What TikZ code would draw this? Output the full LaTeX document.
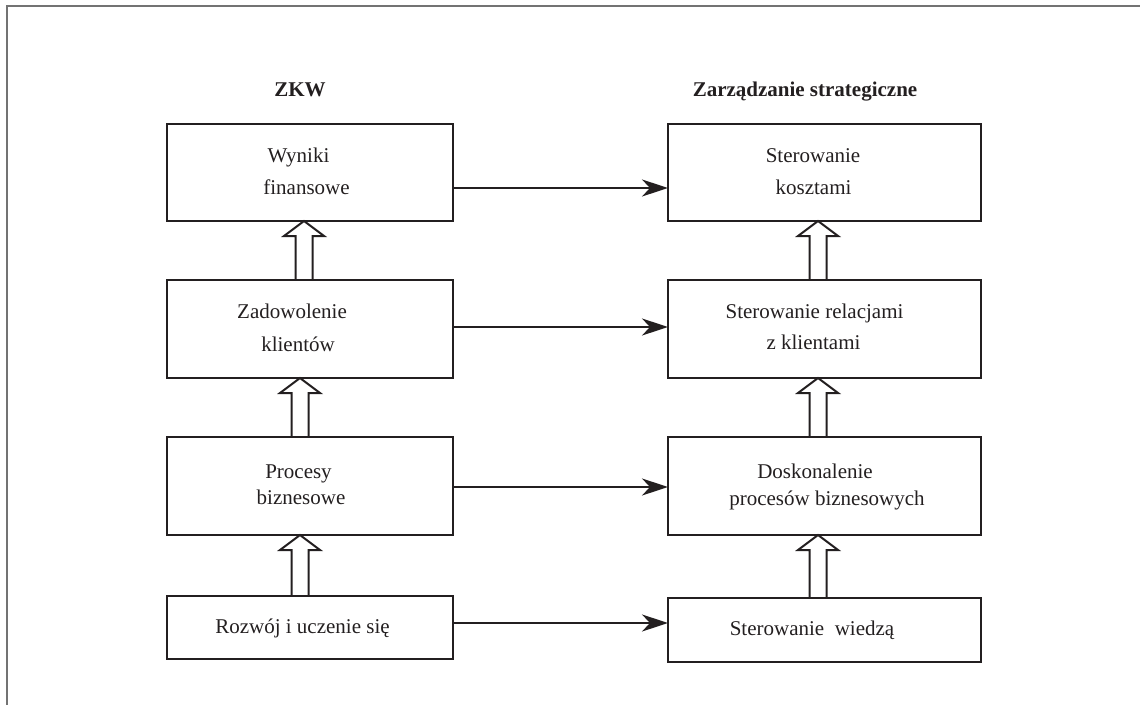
\documentclass[tikz,border=0pt]{standalone}
\usepackage{fontspec}
\setmainfont{Liberation Serif}
\usetikzlibrary{arrows.meta,calc}
\definecolor{ink}{RGB}{35,31,32}
\definecolor{framegray}{RGB}{115,115,115}
\tikzset{
  box/.style={draw=ink, line width=2pt, rectangle, inner sep=0pt, outer sep=0pt},
  txt/.style={anchor=base, inner sep=0pt, text=ink, font=\fontsize{21}{25}\selectfont},
  head/.style={txt, font=\fontsize{21}{25}\selectfont\bfseries},
  flow/.style={draw=ink, line width=2pt, -{Stealth[length=26pt,width=17pt,inset=8pt]}},
  hollow/.style={draw=ink, line width=2pt, line join=miter},
  frameline/.style={draw=framegray, line width=2pt}
}
% open block arrow pointing up from the lower box to the upper one
% #1 = x position (pt), #2 = lower box, #3 = upper box
\newcommand\liftarrow[3]{%
  \draw[hollow] let \p1=(#2.north), \p2=(#3.south) in
    (#1pt-8.5pt,\y1) -- (#1pt-8.5pt,\y2-15pt) -- (#1pt-20pt,\y2-15pt)
    -- (#1pt,\y2) -- (#1pt+20pt,\y2-15pt) -- (#1pt+8.5pt,\y2-15pt)
    -- (#1pt+8.5pt,\y1);}
\begin{document}
\begin{tikzpicture}[x=1pt,y=-1pt]
\useasboundingbox (0,0) rectangle (1140,704);
% outer frame (left and top edges)
\draw[frameline] (7,712) -- (7,6) -- (1150,6);

% column headings
\node[head] (hL) at (300,96.5) {ZKW};
\node[head] (hR) at (805,96.5) {Zarządzanie strategiczne};

% left column
\node[box, minimum width=286pt, minimum height=97pt] (L1) at (310,172.5) {};
\node[box, minimum width=286pt, minimum height=98pt] (L2) at (310,329) {};
\node[box, minimum width=286pt, minimum height=98pt] (L3) at (310,486) {};
\node[box, minimum width=286pt, minimum height=63pt] (L4) at (310,627.5) {};

% right column
\node[box, minimum width=313pt, minimum height=97pt] (R1) at (824.5,172.5) {};
\node[box, minimum width=313pt, minimum height=98pt] (R2) at (824.5,329) {};
\node[box, minimum width=313pt, minimum height=98pt] (R3) at (824.5,486) {};
\node[box, minimum width=313pt, minimum height=64pt] (R4) at (824.5,630) {};

% box texts
\node[txt] (t1a) at (298.5,162) {Wyniki};
\node[txt] (t1b) at (306.5,194) {finansowe};
\node[txt] (t2a) at (292,318) {Zadowolenie};
\node[txt] (t2b) at (298,351) {klientów};
\node[txt] (t3a) at (298.5,478) {Procesy};
\node[txt] (t3b) at (301,504) {biznesowe};
\node[txt] (t4a) at (302.5,633) {Rozwój i uczenie się};

\node[txt] (s1a) at (813,162) {Sterowanie};
\node[txt] (s1b) at (813.5,194) {kosztami};
\node[txt] (s2a) at (814.5,318) {Sterowanie relacjami};
\node[txt] (s2b) at (813.5,349) {z klientami};
\node[txt] (s3a) at (815,478) {Doskonalenie};
\node[txt] (s3b) at (827,505) {procesów biznesowych};
\node[txt] (s4a) at (812,635) {Sterowanie\ \ wiedzą};

% block arrows within each column
\liftarrow{304}{L2}{L1}
\liftarrow{300}{L3}{L2}
\liftarrow{300}{L4}{L3}
\liftarrow{818}{R2}{R1}
\liftarrow{818}{R3}{R2}
\liftarrow{818}{R4}{R3}

% links between the columns
\coordinate (a1) at ([yshift=-15.5pt]L1.east);
\coordinate (a2) at ([yshift=2pt]L2.east);
\coordinate (a3) at ([yshift=-1pt]L3.east);
\coordinate (a4) at ([yshift=4.5pt]L4.east);
\draw[flow] (a1) -- (a1 -| R1.west);
\draw[flow] (a2) -- (a2 -| R2.west);
\draw[flow] (a3) -- (a3 -| R3.west);
\draw[flow] (a4) -- (a4 -| R4.west);
\end{tikzpicture}
\end{document}
